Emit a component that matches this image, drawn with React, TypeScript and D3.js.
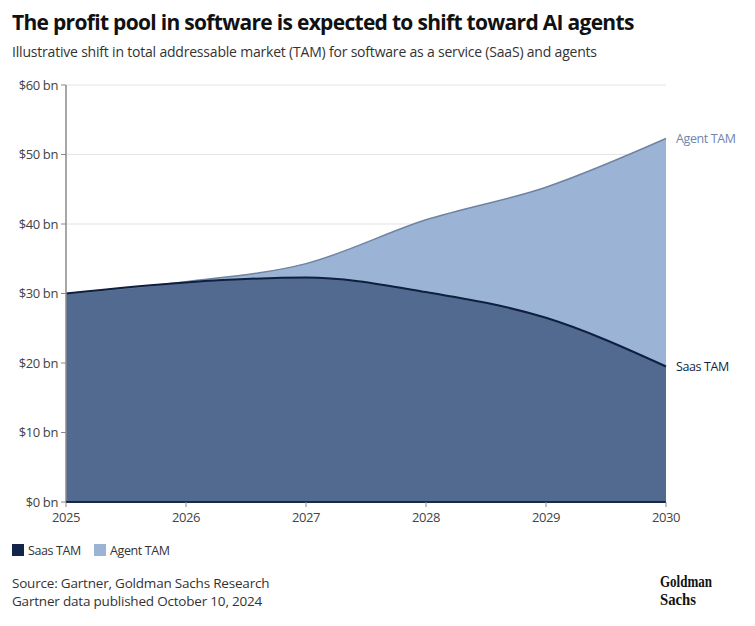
import React from 'react'
import * as d3 from 'd3'

// values, $bn
const years = [2025, 2026, 2027, 2028, 2029, 2030]
const saasTam = [30, 31.6, 32.3, 30.2, 26.5, 19.5]
const agentTam = [0, 0.1, 2.0, 10.4, 18.8, 32.8]
const yTicks = [0, 10, 20, 30, 40, 50, 60]

const W = 755
const H = 626
const FONT = "'Open Sans', 'Noto Sans', sans-serif"

export default function App() {
  const x = d3.scaleLinear().domain([2025, 2030]).range([66, 666])
  const y = d3.scaleLinear().domain([0, 60]).range([502, 85])

  const rows = years.map((yr, i) => ({ year: yr, saas: saasTam[i], agent: agentTam[i] }))
  const series = d3.stack<any>().keys(['saas', 'agent'])(rows)

  const area = d3.area<any>()
    .x(d => x(d.data.year))
    .y0(d => y(d[0]))
    .y1(d => y(d[1]))
    .curve(d3.curveMonotoneX)

  const line = d3.line<any>()
    .x(d => x(d.data.year))
    .y(d => y(d[1]))
    .curve(d3.curveMonotoneX)

  const last = years.length - 1

  return (
    <svg width={W} height={H} style={{ display: 'block', margin: -8, background: '#fff' }} fontFamily={FONT}>
      <text x={12} y={30} fontSize={21} fontWeight={700} fill="#111" letterSpacing={-0.7}>
        The profit pool in software is expected to shift toward AI agents
      </text>
      <text x={12} y={57} fontSize={14} fill="#333" letterSpacing={-0.2}>
        Illustrative shift in total addressable market (TAM) for software as a service (SaaS) and agents
      </text>

      {/* grid */}
      {yTicks.filter(t => t > 0).map(t => (
        <line key={t} x1={x(2025)} x2={x(2030)} y1={y(t)} y2={y(t)} stroke="#e4e4e4" strokeWidth={1} />
      ))}

      {/* stacked areas */}
      <path d={area(series[1]) || ''} fill="#9bb3d4" />
      <path d={area(series[0]) || ''} fill="#526a90" />
      <path d={line(series[1]) || ''} fill="none" stroke="#6f83a3" strokeWidth={1.5} />
      <path d={line(series[0]) || ''} fill="none" stroke="#0f1f3f" strokeWidth={2} />

      {/* y axis */}
      <line x1={x(2025)} x2={x(2025)} y1={y(60)} y2={y(0)} stroke="#8a8a8a" strokeWidth={1.5} />
      {yTicks.map(t => (
        <g key={t}>
          <line x1={x(2025) - 5} x2={x(2025)} y1={y(t)} y2={y(t)} stroke="#8a8a8a" />
          <text x={x(2025) - 8} y={y(t)} dy="0.35em" textAnchor="end" fontSize={13} fill="#444" letterSpacing={-0.4}>
            ${t} bn
          </text>
        </g>
      ))}

      {/* x axis */}
      <line x1={x(2025)} x2={x(2030)} y1={y(0)} y2={y(0)} stroke="#1a2744" strokeWidth={2} />
      {years.map(yr => (
        <g key={yr}>
          <line x1={x(yr)} x2={x(yr)} y1={y(0)} y2={y(0) + 5} stroke="#8a8a8a" />
          <text x={x(yr)} y={y(0) + 20} textAnchor="middle" fontSize={13} fill="#444" letterSpacing={-0.4}>
            {yr}
          </text>
        </g>
      ))}

      {/* end labels */}
      <text x={x(2030) + 10} y={y(saasTam[last] + agentTam[last])} dy="0.35em" fontSize={12.5} fill="#6f86aa" letterSpacing={-0.4}>
        Agent TAM
      </text>
      <text x={x(2030) + 10} y={y(saasTam[last])} dy="0.35em" fontSize={12.5} fill="#0f1f3f" letterSpacing={-0.4}>
        Saas TAM
      </text>

      {/* legend */}
      <rect x={12} y={544} width={12} height={12} fill="#14254a" />
      <text x={28} y={555} fontSize={12.5} fill="#333" letterSpacing={-0.4}>Saas TAM</text>
      <rect x={94} y={544} width={12} height={12} fill="#9bb3d4" />
      <text x={110} y={555} fontSize={12.5} fill="#333" letterSpacing={-0.4}>Agent TAM</text>

      {/* source */}
      <text x={12} y={588} fontSize={13.5} fill="#333" letterSpacing={-0.2}>Source: Gartner, Goldman Sachs Research</text>
      <text x={12} y={606} fontSize={13.5} fill="#333" letterSpacing={-0.2}>Gartner data published October 10, 2024</text>

      {/* logo */}
      <g fontFamily="'Liberation Serif', 'DejaVu Serif', serif" fontWeight={700} fill="#111">
        <text x={660} y={587} fontSize={16} textLength={52} lengthAdjust="spacingAndGlyphs">Goldman</text>
        <text x={660} y={605} fontSize={16} textLength={36} lengthAdjust="spacingAndGlyphs">Sachs</text>
      </g>
    </svg>
  )
}
